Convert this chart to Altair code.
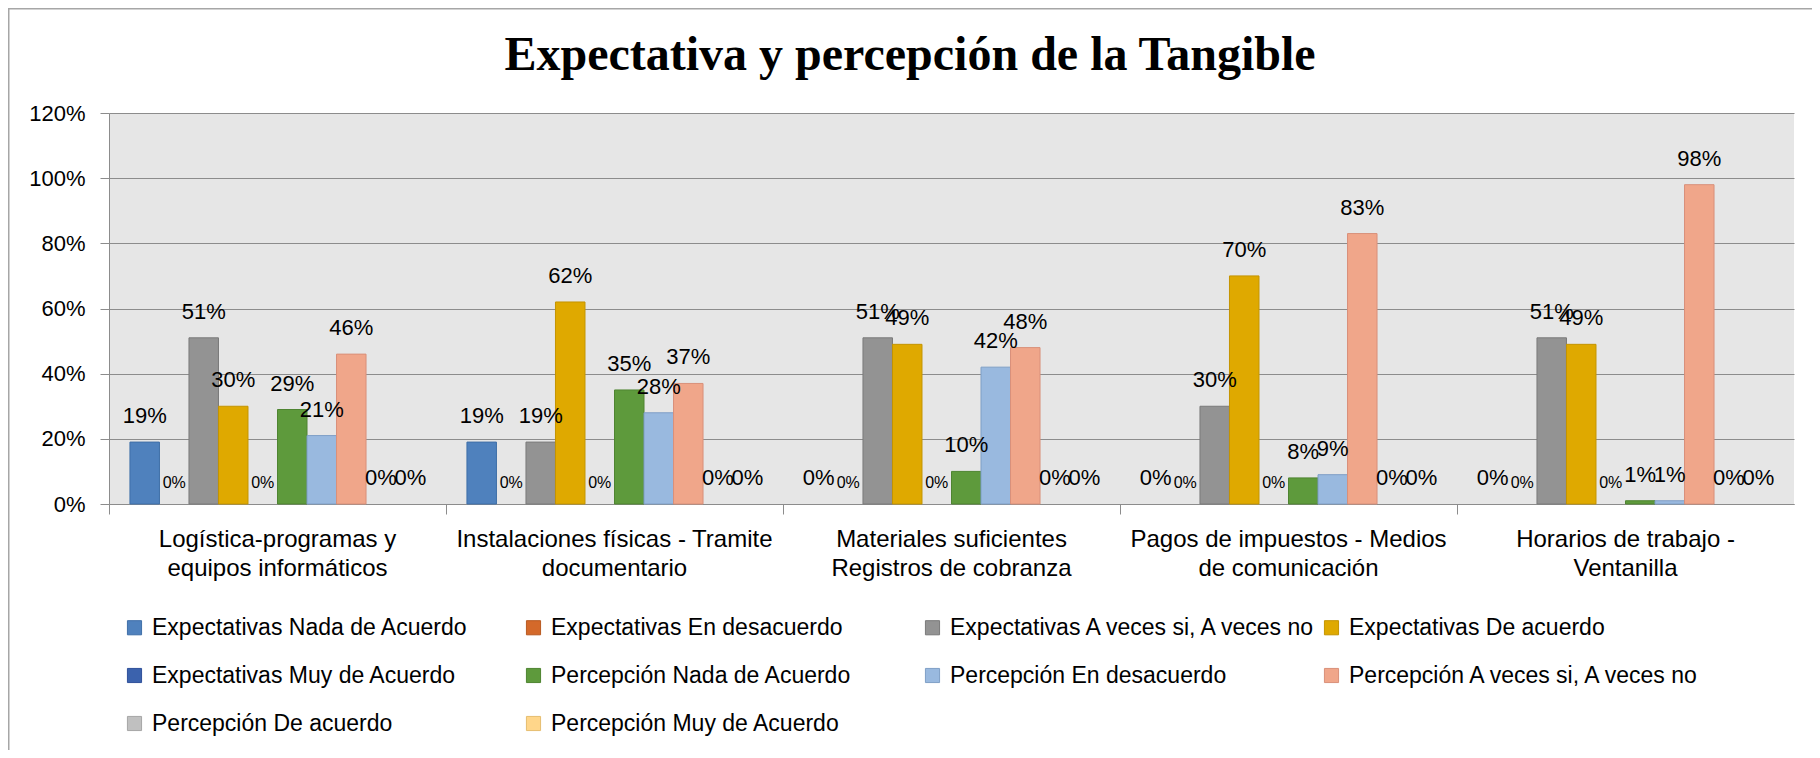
import altair as alt
import pandas as pd

# ---------------- data ----------------
categories = [
    "Logística-programas y equipos informáticos",
    "Instalaciones físicas - Tramite documentario",
    "Materiales  suficientes Registros de cobranza",
    "Pagos de impuestos - Medios de comunicación",
    "Horarios de trabajo - Ventanilla",
]
label_line1 = [
    "Logística-programas y",
    "Instalaciones físicas - Tramite",
    "Materiales  suficientes",
    "Pagos de impuestos - Medios",
    "Horarios de trabajo -",
]
label_line2 = [
    "equipos informáticos",
    "documentario",
    "Registros de cobranza",
    "de comunicación",
    "Ventanilla",
]

series = [
    "Expectativas Nada de Acuerdo",
    "Expectativas En desacuerdo",
    "Expectativas A veces si, A veces no",
    "Expectativas De acuerdo",
    "Expectativas Muy de Acuerdo",
    "Percepción Nada de Acuerdo",
    "Percepción En desacuerdo",
    "Percepción A veces si, A veces no",
    "Percepción De acuerdo",
    "Percepción Muy de Acuerdo",
]

exp_nada = [0.19, 0.19, 0.00, 0.00, 0.00]
exp_desacuerdo = [0.00, 0.00, 0.00, 0.00, 0.00]
exp_aveces = [0.51, 0.19, 0.51, 0.30, 0.51]
exp_deacuerdo = [0.30, 0.62, 0.49, 0.70, 0.49]
exp_muy = [0.00, 0.00, 0.00, 0.00, 0.00]
per_nada = [0.29, 0.35, 0.10, 0.08, 0.01]
per_desacuerdo = [0.21, 0.28, 0.42, 0.09, 0.01]
per_aveces = [0.46, 0.37, 0.48, 0.83, 0.98]
per_deacuerdo = [0.00, 0.00, 0.00, 0.00, 0.00]
per_muy = [0.00, 0.00, 0.00, 0.00, 0.00]

series_values = [
    exp_nada, exp_desacuerdo, exp_aveces, exp_deacuerdo, exp_muy,
    per_nada, per_desacuerdo, per_aveces, per_deacuerdo, per_muy,
]

small_label_series = ["Expectativas En desacuerdo", "Expectativas Muy de Acuerdo"]

y_ticks = [0, 0.2, 0.4, 0.6, 0.8, 1.0, 1.2]

# ---------------- styles ----------------
fill_colors = [
    "#4f81bd", "#d4692a", "#939393", "#dfa900", "#3b62ad",
    "#5e9a3c", "#99b9df", "#f0a68a", "#c0c0c0", "#ffd68a",
]
stroke_colors = [
    "#3f6fa8", "#b85a22", "#7a7a7a", "#c49400", "#2f519a",
    "#4e8431", "#7f9fc6", "#d9907a", "#a6a6a6", "#e6bd70",
]

rows = []
for ci, cat in enumerate(categories):
    for si, s in enumerate(series):
        rows.append({"category": cat, "series": s, "value": series_values[si][ci]})
df = pd.DataFrame(rows)

label_expr = " : ".join(
    f"datum.label == '{c}' ? ['{a}', '{b}']"
    for c, a, b in zip(categories, label_line1, label_line2)
) + " : datum.label"

W, H = 1685, 391
PAD_L, PAD_T, PAD_R = 101, 105, 18
PAD_B = 742 - PAD_T - H

FONT = "Liberation Sans"
x_scale = alt.Scale(paddingInner=0, paddingOuter=0)
y_scale = alt.Scale(domain=[0, 1.2], nice=False)

x_main = alt.X(
    "category:N",
    sort=categories,
    scale=x_scale,
    axis=alt.Axis(
        title=None, labelAngle=0, ticks=False, domain=True, domainColor="#8c8c8c",
        labelExpr=label_expr, labelFontSize=24, labelLineHeight=29,
        labelPadding=23, labelColor="#000000", labelFont=FONT, labelLimit=400,
        orient="bottom",
    ),
)
x_sep = alt.X(
    "category:N",
    sort=categories,
    scale=x_scale,
    axis=alt.Axis(
        title=None, labels=False, ticks=True, tickSize=10, tickColor="#8c8c8c",
        domain=False, bandPosition=0, orient="bottom",
    ),
)
x_plain = alt.X("category:N", sort=categories, scale=x_scale, axis=None)
x_off = alt.XOffset(
    "series:N", sort=series, scale=alt.Scale(paddingInner=0, paddingOuter=0.71)
)
y_axis = alt.Axis(
    title=None, values=y_ticks, format=".0%", grid=True, gridColor="#8c8c8c",
    gridWidth=1, domain=True, domainColor="#8c8c8c", ticks=True, tickSize=9,
    tickColor="#8c8c8c", labelFontSize=22, labelPadding=15,
    labelColor="#000000", labelFont=FONT,
)
y_enc = alt.Y("value:Q", scale=y_scale, axis=y_axis)

bars = alt.Chart(df).transform_filter("datum.value > 0").mark_bar(strokeWidth=1).encode(
    x=x_main,
    xOffset=x_off,
    y=y_enc,
    fill=alt.Fill(
        "series:N",
        sort=series,
        scale=alt.Scale(domain=series, range=fill_colors),
        legend=alt.Legend(
            title=None, orient="none", legendX=14, legendY=503, columns=4,
            direction="horizontal",
            symbolType="square", symbolSize=200, symbolStrokeWidth=1,
            labelFontSize=23, labelFont=FONT, labelColor="#000000",
            labelLimit=600, rowPadding=24, columnPadding=1, gridAlign="all",
            labelOffset=6, padding=0,
        ),
    ),
    stroke=alt.Stroke(
        "series:N", sort=series,
        scale=alt.Scale(domain=series, range=stroke_colors), legend=None,
    ),
)

is_small = alt.FieldOneOfPredicate(field="series", oneOf=small_label_series)

big_labels = alt.Chart(df).transform_filter(~is_small).mark_text(
    dy=-26, fontSize=22, font=FONT, color="#000000", baseline="middle", align="center"
).encode(
    x=x_sep, xOffset=x_off, y=y_enc,
    text=alt.Text("value:Q", format=".0%"),
)

small_labels = alt.Chart(df).transform_filter(is_small).mark_text(
    dy=-21, fontSize=16, font=FONT, color="#000000", baseline="middle", align="center"
).encode(
    x=x_plain, xOffset=x_off, y=y_enc,
    text=alt.Text("value:Q", format=".0%"),
)

frame_df = pd.DataFrame({"k": [0]})
left_border = alt.Chart(frame_df).mark_rule(color="#a6a6a6", strokeWidth=1.5).encode(
    x=alt.value(-PAD_L + 0.75), y=alt.value(-PAD_T), y2=alt.value(H + PAD_B)
)
top_border = alt.Chart(frame_df).mark_rule(color="#a6a6a6", strokeWidth=1.5).encode(
    x=alt.value(-PAD_L), x2=alt.value(W + PAD_R), y=alt.value(-PAD_T + 0.75)
)

chart = alt.layer(bars, big_labels, small_labels, left_border, top_border).resolve_axis(
    x="independent"
).properties(
    width=W,
    height=H,
    padding={"left": PAD_L, "top": PAD_T, "right": PAD_R, "bottom": PAD_B},
    autosize=alt.AutoSizeParams(type="none"),
    background="#ffffff",
    title=alt.TitleParams(
        "Expectativa y percepción de la Tangible",
        font="Liberation Serif", fontSize=48, fontWeight="bold", color="#000000",
        anchor="middle", offset=0, dy=111, baseline="alphabetic", frame="bounds",
    ),
).configure_view(
    fill="#e6e6e6", stroke=None
)

chart.save("out.html", embed_options={"renderer": "svg", "actions": False})
